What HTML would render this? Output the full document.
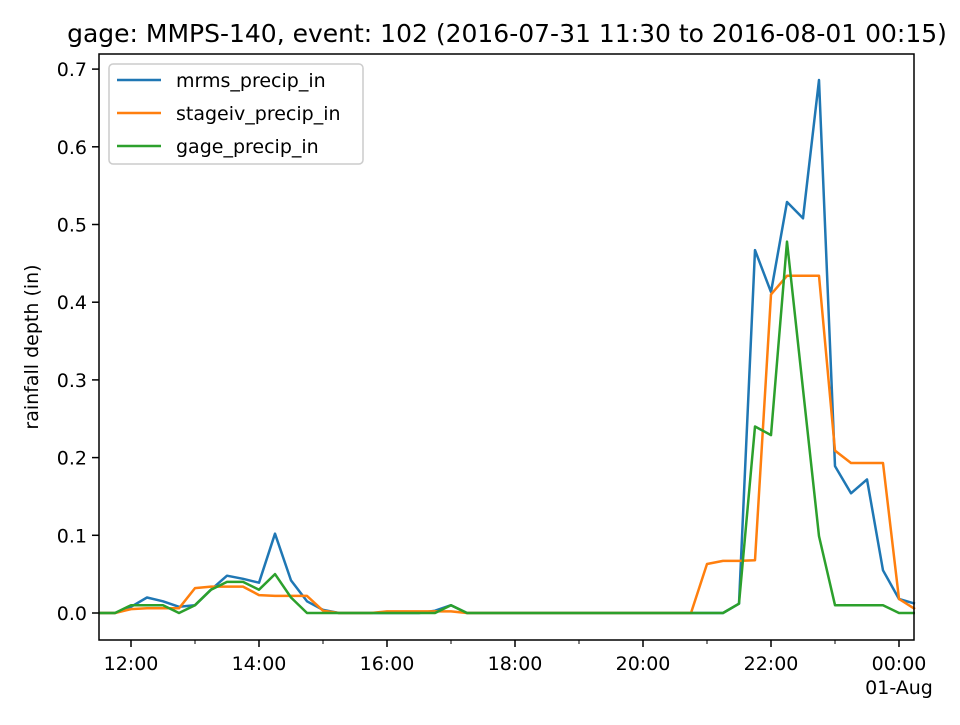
<!DOCTYPE html>
<html><head><meta charset="utf-8"><style>
body{margin:0;background:#fff;}
svg text{font-family:"DejaVu Sans","Liberation Sans",sans-serif;fill:#000;}
</style></head><body>
<svg id="chart" width="960" height="720" xmlns="http://www.w3.org/2000/svg">
<rect width="960" height="720" fill="#fff"/>
<text x="507" y="42" font-size="25" text-anchor="middle">gage: MMPS-140, event: 102 (2016-07-31 11:30 to 2016-08-01 00:15)</text>
<text transform="translate(38,347) rotate(-90)" font-size="19" text-anchor="middle">rainfall depth (in)</text>
<g id="marks"></g>
<rect x="99" y="54" width="815" height="586" fill="none" stroke="#000" stroke-width="1.5"/>
<g id="axes"></g>
<g>
<rect x="109" y="64" width="254" height="100" rx="4" fill="#fff" fill-opacity="0.8" stroke="#ccc" stroke-width="1.5"/>
<g><line x1="117" y1="80" x2="161" y2="80" stroke="#1f77b4" stroke-width="2.5"/><text x="176" y="87" font-size="19">mrms_precip_in</text></g>
<g><line x1="117" y1="113" x2="161" y2="113" stroke="#ff7f0e" stroke-width="2.5"/><text x="176" y="120" font-size="19">stageiv_precip_in</text></g>
<g><line x1="117" y1="146" x2="161" y2="146" stroke="#2ca02c" stroke-width="2.5"/><text x="176" y="153" font-size="19">gage_precip_in</text></g>
</g>
</svg>
<script>
const mrms = [0,0,0.008,0.02,0.015,0.008,0.01,0.03,0.048,0.044,0.039,0.102,0.042,0.015,0.004,0,0,0,0,0,0,0.003,0.01,0,0,0,0,0,0,0,0,0,0,0,0,0,0,0,0,0,0.012,0.467,0.413,0.529,0.508,0.686,0.189,0.154,0.172,0.055,0.018,0.012];
const stageiv = [0,0,0.005,0.006,0.006,0.006,0.032,0.034,0.034,0.034,0.023,0.022,0.022,0.022,0.003,0,0,0,0.002,0.002,0.002,0.002,0.002,0,0,0,0,0,0,0,0,0,0,0,0,0,0,0,0.063,0.067,0.067,0.068,0.41,0.434,0.434,0.434,0.209,0.193,0.193,0.193,0.018,0.005];
const gage = [0,0,0.01,0.01,0.01,0,0.01,0.03,0.04,0.04,0.03,0.05,0.02,0,0,0,0,0,0,0,0,0,0.01,0,0,0,0,0,0,0,0,0,0,0,0,0,0,0,0,0,0.012,0.24,0.229,0.478,0.288,0.099,0.01,0.01,0.01,0.01,0,0];
const yTicks = [0,0.1,0.2,0.3,0.4,0.5,0.6,0.7];
const xTickHours = [12,14,16,18,20,22,24];
const xTickLabels = ["12:00","14:00","16:00","18:00","20:00","22:00","00:00"];
const startHour = 11.5, stepHours = 0.25;

const NS="http://www.w3.org/2000/svg";
const xOf = h => 99 + (h - startHour) * 64;
const yOf = v => 613 - v * 777;
const marks = document.getElementById('marks');
const axes = document.getElementById('axes');
function mk(tag, attrs, parent){const e=document.createElementNS(NS,tag);for(const k in attrs)e.setAttribute(k,attrs[k]);parent.appendChild(e);return e;}

[[mrms,'#1f77b4','line-mrms'],[stageiv,'#ff7f0e','line-stageiv'],[gage,'#2ca02c','line-gage']].forEach(([arr,c,n])=>{
  const pts = arr.map((v,i)=>xOf(startHour+i*stepHours).toFixed(1)+','+yOf(v).toFixed(1)).join(' ');
  const p = mk('polyline',{points:pts,fill:'none',stroke:c,'stroke-width':2.5,'stroke-linejoin':'round'},marks);
  
  
});

yTicks.forEach(t=>{
  const y=yOf(t);
  mk('line',{x1:92,x2:99,y1:y,y2:y,stroke:'#000','stroke-width':1.5},axes);
  const tx=mk('text',{x:87,y:y+7,'font-size':19,'text-anchor':'end'},axes);
  tx.textContent=t.toFixed(1);
  
  
});
xTickHours.forEach((h,i)=>{
  const x=xOf(h);
  mk('line',{x1:x,x2:x,y1:640,y2:647,stroke:'#000','stroke-width':1.5},axes);
  const tx=mk('text',{x:x,y:670,'font-size':19,'text-anchor':'middle'},axes);
  tx.textContent=xTickLabels[i];
  
  
});
const d=mk('text',{x:xOf(24),y:694,'font-size':19,'text-anchor':'middle'},axes);
d.textContent='01-Aug';


for(let h=12;h<=24;h++){ if(h%2) mk('line',{x1:xOf(h),x2:xOf(h),y1:640,y2:644,stroke:'#000'},axes); }
</script>
</body></html>
